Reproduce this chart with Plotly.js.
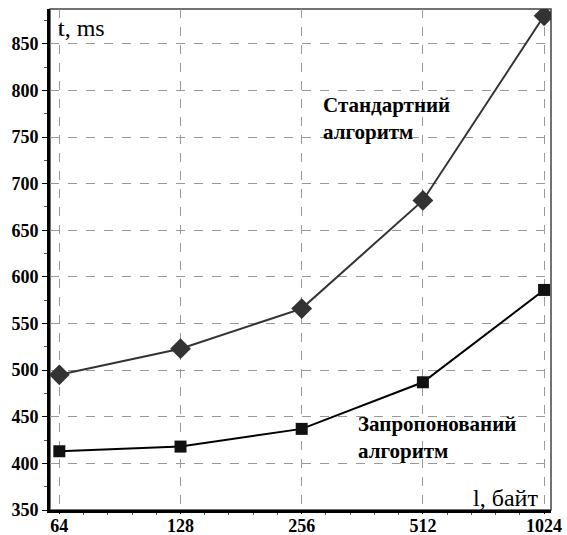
<!DOCTYPE html>
<html>
<head>
<meta charset="utf-8">
<script src="https://cdn.plot.ly/plotly-3.0.1.min.js"></script>
<style>html,body{margin:0;padding:0;background:#fff;}#chart{width:567px;height:535px;}</style>
</head>
<body>
<div id="chart"></div>
<script>
// Data
const sizes = [64, 128, 256, 512, 1024];              // l, байт
const standardTimes = [495, 523, 566, 682, 880];       // Стандартний алгоритм, ms
const proposedTimes = [413, 418, 437, 487, 586];       // Запропонований алгоритм, ms
const xTickLabels = ['64', '128', '256', '512', '1024'];
const yTickVals = [350, 400, 450, 500, 550, 600, 650, 700, 750, 800, 850];

const serif = 'Liberation Serif';

// minor tick positions on the log axis (4 per octave)
const xMinor = [];
for (let i = 0; i < sizes.length - 1; i++) {
  for (let k = 1; k < 5; k++) xMinor.push(sizes[i] * Math.pow(2, k / 5));
}

const traces = [
  {
    x: sizes, y: standardTimes, type: 'scatter', mode: 'lines+markers',
    line: {color: '#333333', width: 2},
    marker: {symbol: 'diamond', size: 16, color: '#333333'},
    hoverinfo: 'skip'
  },
  {
    x: sizes, y: proposedTimes, type: 'scatter', mode: 'lines+markers',
    line: {color: '#000000', width: 2},
    marker: {symbol: 'square', size: 12, color: '#111111'},
    hoverinfo: 'skip'
  }
];

const layout = {
  width: 567, height: 535,
  margin: {l: 50, r: 16, t: 9, b: 25, pad: 0},
  paper_bgcolor: '#ffffff', plot_bgcolor: '#ffffff',
  showlegend: false,
  font: {family: serif, color: '#000'},
  xaxis: {
    type: 'log',
    range: [1.7830, 3.0275],
    tickmode: 'array', tickvals: sizes, ticktext: xTickLabels,
    tickfont: {family: serif, size: 18, color: '#000', weight: 'bold'},
    ticks: 'outside', ticklen: 1, tickcolor: '#000',
    ticklabelstandoff: -4,
    showgrid: true, gridcolor: '#999999', griddash: 'dash', gridwidth: 1,
    showline: true, linecolor: '#000', linewidth: 3,
    zeroline: false,
    minor: {tickmode: 'array', tickvals: xMinor, ticks: 'outside', ticklen: 2, tickcolor: '#555', showgrid: false}
  },
  yaxis: {
    range: [350, 887.3],
    tickmode: 'array', tickvals: yTickVals,
    tickfont: {family: serif, size: 18, color: '#000', weight: 'bold'},
    ticks: 'outside', ticklen: 5, tickcolor: '#000',
    showgrid: true, gridcolor: '#999999', griddash: 'dash', gridwidth: 1,
    showline: true, linecolor: '#000', linewidth: 3,
    zeroline: false,
    minor: {dtick: 25, ticks: 'outside', ticklen: 3, tickcolor: '#555', showgrid: false}
  },
  shapes: [
    {type: 'rect', xref: 'paper', yref: 'paper', x0: 0, y0: 0, x1: 1, y1: 1,
     line: {color: '#444', width: 1.5}, fillcolor: 'rgba(0,0,0,0)', layer: 'below'}
  ],
  annotations: [
    {xref: 'paper', yref: 'paper', x: 0.012, y: 0.962, xanchor: 'left', yanchor: 'middle',
     text: 't, ms', showarrow: false, font: {family: serif, size: 24, color: '#000'}},
    {xref: 'paper', yref: 'paper', x: 0.978, y: 0.024, xanchor: 'right', yanchor: 'middle',
     text: 'l, байт', showarrow: false, font: {family: serif, size: 24, color: '#000'}},
    {xref: 'paper', yref: 'paper', x: 0.541, y: 0.782, xanchor: 'left', yanchor: 'middle', align: 'left',
     text: 'Стандартний<br>алгоритм', showarrow: false,
     font: {family: serif, size: 21, color: '#000', weight: 'bold'}},
    {xref: 'paper', yref: 'paper', x: 0.611, y: 0.144, xanchor: 'left', yanchor: 'middle', align: 'left',
     text: 'Запропонований<br>алгоритм', showarrow: false,
     font: {family: serif, size: 21, color: '#000', weight: 'bold'}}
  ]
};

Plotly.newPlot('chart', traces, layout, {staticPlot: true, displayModeBar: false});
</script>
</body>
</html>
